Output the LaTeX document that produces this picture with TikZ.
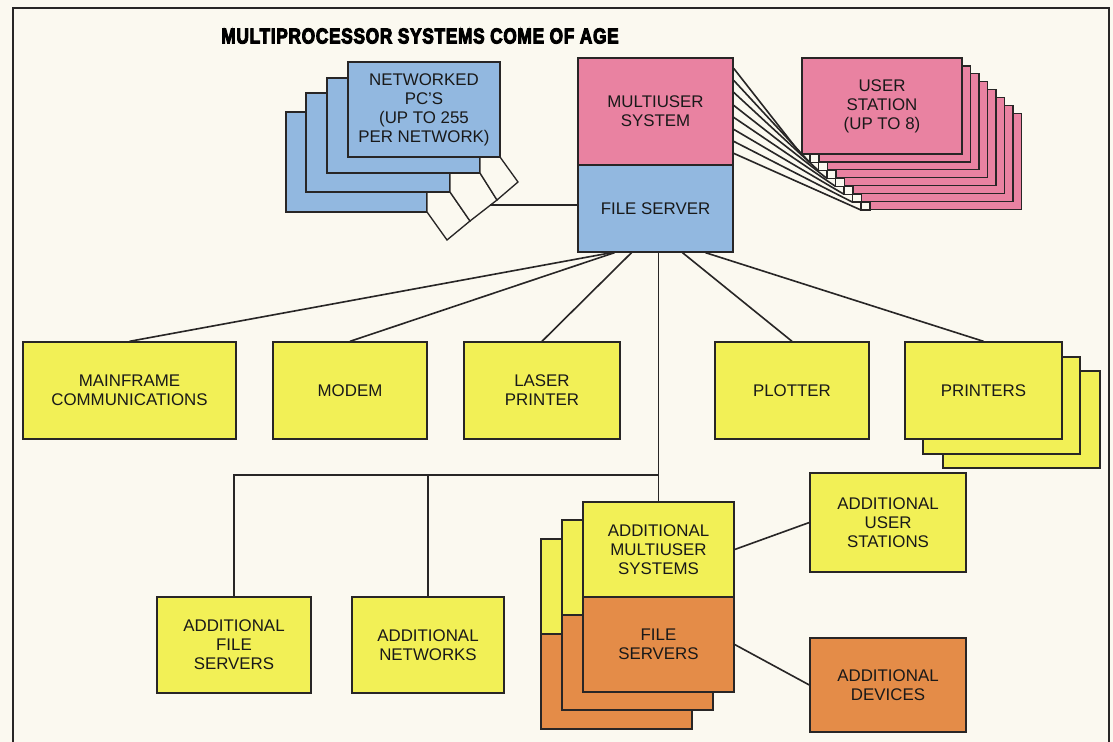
\documentclass[tikz,border=0pt]{standalone}
\usepackage{graphicx}
\usepackage{fontspec}
\setmainfont{Liberation Sans}
\newfontfamily\titlefont{Liberation Sans}[BoldFeatures={FakeBold=5}, LetterSpace=4]
\usetikzlibrary{calc}
\definecolor{paperBg}{RGB}{251, 249, 240}
\definecolor{inkLine}{RGB}{40, 38, 38}
\definecolor{pinkBox}{RGB}{233, 130, 161}
\definecolor{blueBox}{RGB}{146, 184, 224}
\definecolor{yellowBox}{RGB}{242, 240, 86}
\definecolor{orangeBox}{RGB}{228, 140, 72}

\begin{document}
\begin{tikzpicture}[
    x=0.025cm, y=-0.025cm,
    font=\fontsize{12}{13.5}\selectfont,
    card/.style={draw=inkLine, line width=0.95pt, inner sep=0pt, align=center, text=black!90},
    boxsize/.style 2 args={minimum width=#1*0.025cm, minimum height=#2*0.025cm},
    wire/.style={draw=inkLine, line width=1.15pt},
    plug/.style={draw=inkLine, line width=0.95pt, fill=paperBg}
]

    % ================= paper and frame =================
    \fill[paperBg] (0,0) rectangle (1113,742);
    \useasboundingbox (0,0) rectangle (1113,742);
    \draw[inkLine, line width=1.2pt] (13,742) -- (13,8) -- (1109,8) -- (1109,742);

    \node (title) at (420,36)
        {\titlefont\bfseries\fontsize{12.3}{15}\selectfont\scalebox{1}[1.25]{MULTIPROCESSOR SYSTEMS COME OF AGE}};

    % ================= networked PC's (back to front, with plugs) =================
    \node[card, fill=blueBox, boxsize={141}{100}] (pc4) at (356.5,162) {};
    \draw[plug] (427,192) -- (427,212) -- (447,240) -- (470,221) -- (450,192) -- cycle;
    \node[card, fill=blueBox, boxsize={144}{99}] (pc3) at (378,142.5) {};
    \draw[plug] (450,173) -- (450,192) -- (470,221) -- (497,200) -- (480,173) -- cycle;
    \node[card, fill=blueBox, boxsize={153}{95}] (pc2) at (403.5,125.5) {};
    \draw[plug] (480,157) -- (480,173) -- (497,200) -- (518,182) -- (500,157) -- cycle;
    \node[card, fill=blueBox, boxsize={152}{95}] (pc1) at (424,109.5)
        {NETWORKED\\PC'S\\(UP TO 255\\PER NETWORK)};
    \coordinate (pcplug) at (490,205);

    % ================= multiuser system / file server =================
    \node[card, fill=pinkBox, boxsize={155}{107}] (mus) at (655.5,111.5) {MULTIUSER\\SYSTEM};
    \node[card, fill=blueBox, boxsize={155}{87}] (fs) at (655.5,208.5) {FILE SERVER};
    \draw[wire] (pcplug) -- (pcplug -| fs.west);

    % ================= user stations (8 cards, back to front) =================
    \node[card, fill=pinkBox, boxsize={160}{96}] (us7) at (941.5,161.3) {};
    \draw[plug] (us7.south west) rectangle ++(9,-8);
    \node[card, fill=pinkBox, boxsize={160}{96}] (us6) at (933,153.4) {};
    \draw[plug] (us6.south west) rectangle ++(9,-8);
    \node[card, fill=pinkBox, boxsize={160}{96}] (us5) at (924.5,145.5) {};
    \draw[plug] (us5.south west) rectangle ++(9,-8);
    \node[card, fill=pinkBox, boxsize={160}{96}] (us4) at (916,137.6) {};
    \draw[plug] (us4.south west) rectangle ++(9,-8);
    \node[card, fill=pinkBox, boxsize={160}{96}] (us3) at (907.5,129.7) {};
    \draw[plug] (us3.south west) rectangle ++(9,-8);
    \node[card, fill=pinkBox, boxsize={160}{96}] (us2) at (899,121.8) {};
    \draw[plug] (us2.south west) rectangle ++(9,-8);
    \node[card, fill=pinkBox, boxsize={160}{96}] (us1) at (890.5,113.9) {};
    \draw[plug] (us1.south west) rectangle ++(9,-8);
    \node[card, fill=pinkBox, boxsize={160}{96}] (us0) at (882,106) {USER\\STATION\\(UP TO 8)};

    \draw[wire] ($(mus.north east)+(0,11)$) -- (us0.south west);
    \draw[wire] ($(mus.north east)+(0,23)$) -- (us1.south west);
    \draw[wire] ($(mus.north east)+(0,35)$) -- (us2.south west);
    \draw[wire] ($(mus.north east)+(0,48)$) -- (us3.south west);
    \draw[wire] ($(mus.north east)+(0,60)$) -- (us4.south west);
    \draw[wire] ($(mus.north east)+(0,72)$) -- (us5.south west);
    \draw[wire] ($(mus.north east)+(0,84)$) -- (us6.south west);
    \draw[wire] ($(mus.north east)+(0,96)$) -- (us7.south west);

    % ================= peripherals row =================
    \node[card, fill=yellowBox, boxsize={213}{97}] (mf) at (129.5,390.5) {MAINFRAME\\COMMUNICATIONS};
    \node[card, fill=yellowBox, boxsize={154}{97}] (modem) at (350,390.5) {MODEM};
    \node[card, fill=yellowBox, boxsize={156}{97}] (laser) at (542,390.5) {LASER\\PRINTER};
    \node[card, fill=yellowBox, boxsize={154}{97}] (plotter) at (792,390.5) {PLOTTER};
    \node[card, fill=yellowBox, boxsize={157}{97}] (printers3) at (1021.5,419.5) {};
    \node[card, fill=yellowBox, boxsize={157}{97}] (printers2) at (1001.5,405.5) {};
    \node[card, fill=yellowBox, boxsize={157}{97}] (printers) at (983.5,390.5) {PRINTERS};

    \draw[wire] ($(fs.south)+(-44,0)$) -- (mf.north);
    \draw[wire] ($(fs.south)+(-41,0)$) -- (modem.north);
    \draw[wire] ($(fs.south)+(-24,0)$) -- (laser.north);
    \draw[wire] ($(fs.south)+(27,0)$) -- (plotter.north);
    \draw[wire] ($(fs.south)+(50,0)$) -- (printers.north);

    % ================= additional multiuser systems (3 cards) =================
    \node[card, fill=yellowBox, boxsize={151}{95}] (amu3) at (616.5,586.5) {};
    \node[card, fill=orangeBox, boxsize={151}{95}] (afsv3) at (616.5,681.5) {};
    \node[card, fill=yellowBox, boxsize={151}{95}] (amu2) at (637.5,567.5) {};
    \node[card, fill=orangeBox, boxsize={151}{95}] (afsv2) at (637.5,662.5) {};
    \node[card, fill=yellowBox, boxsize={151}{95}] (amu) at (658.5,549.5) {ADDITIONAL\\MULTIUSER\\SYSTEMS};
    \node[card, fill=orangeBox, boxsize={151}{95}] (afsv) at (658.5,644.5) {FILE\\SERVERS};

    \draw[wire] ($(fs.south)+(3,0)$) -- (amu.north);

    \node[card, fill=yellowBox, boxsize={156}{99}] (aus) at (888,522.5) {ADDITIONAL\\USER\\STATIONS};
    \node[card, fill=orangeBox, boxsize={156}{94}] (adev) at (888,685) {ADDITIONAL\\DEVICES};
    \draw[wire] (amu.east) -- (aus.west);
    \draw[wire] (afsv.east) -- (adev.west);

    % ================= additional file servers / networks =================
    \node[card, fill=yellowBox, boxsize={154}{96}] (afs) at (234,645) {ADDITIONAL\\FILE\\SERVERS};
    \node[card, fill=yellowBox, boxsize={152}{96}] (anet) at (428,645) {ADDITIONAL\\NETWORKS};
    \coordinate (branch) at (658.5,475);
    \draw[wire] (afs.north) |- (branch);
    \draw[wire] (anet.north) -- (anet.north |- branch);

\end{tikzpicture}
\end{document}
